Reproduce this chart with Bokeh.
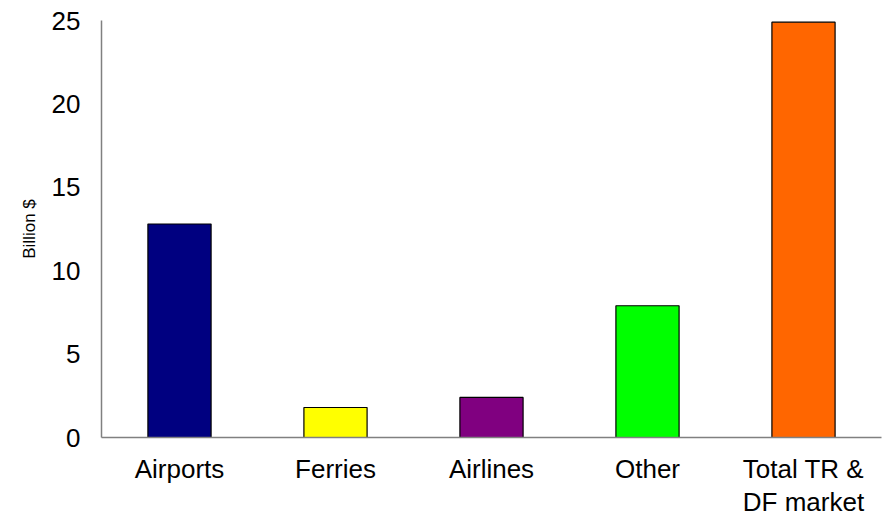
from bokeh.plotting import figure
from bokeh.models import ColumnDataSource, Range1d, FactorRange
from bokeh.embed import file_html
from bokeh.resources import INLINE

categories = ["Airports", "Ferries", "Airlines", "Other", "Total TR &\nDF market"]
values = [12.8, 1.8, 2.4, 7.9, 24.9]
colors = ["#000080", "#FFFF00", "#800080", "#00FF00", "#FF6600"]
y_ticks = [0, 5, 10, 15, 20, 25]

src = ColumnDataSource(dict(cat=categories, val=values, color=colors))

p = figure(x_range=FactorRange(*categories), y_range=Range1d(0, 25),
           width=888, height=519, output_backend="svg", toolbar_location=None,
           min_border_left=101, min_border_right=7, min_border_top=20, min_border_bottom=0)

p.vbar(x="cat", top="val", width=0.405, source=src, fill_color="color",
       line_color="#000000", line_width=1.2)

p.xgrid.grid_line_color = None
p.ygrid.grid_line_color = None
p.outline_line_color = None

for ax in (p.xaxis, p.yaxis):
    ax.axis_line_color = "#808080"
    ax.axis_line_width = 1.5
    ax.major_tick_line_color = None
    ax.minor_tick_line_color = None
    ax.major_label_text_font = "Liberation Sans"
    ax.major_label_text_font_size = "26px"
    ax.major_label_text_color = "#000000"

p.xaxis.major_label_text_line_height = 1.1
p.yaxis.ticker = y_ticks
p.yaxis.major_label_standoff = 15
p.xaxis.major_label_standoff = 10
p.yaxis.axis_label = "Billion $"
p.yaxis.axis_label_text_font = "Liberation Sans"
p.yaxis.axis_label_text_font_size = "17px"
p.yaxis.axis_label_text_font_style = "normal"
p.yaxis.axis_label_text_color = "#000000"
p.yaxis.axis_label_standoff = 10

open("out.html", "w").write(file_html(p, INLINE))
